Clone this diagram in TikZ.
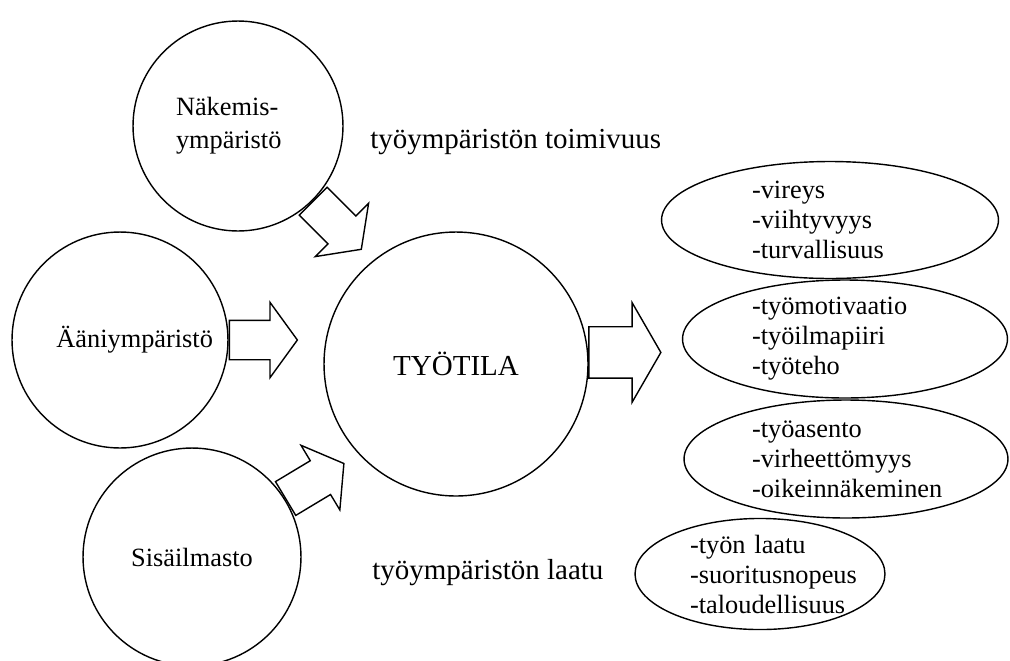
\documentclass[tikz,border=0pt]{standalone}
\usepackage{fontspec}
\setmainfont{Liberation Serif}
\usetikzlibrary{shapes.geometric,shapes.arrows}
\hyphenpenalty=10000
\exhyphenpenalty=10000
\tikzset{
	ympyra/.style={draw, circle, line width=.8pt, inner sep=0pt, font=\fontsize{15}{18.8}\selectfont},
	soikio/.style={draw, ellipse, line width=.8pt, inner sep=0pt, align=left, font=\fontsize{15}{17.07}\selectfont},
	nuoli/.style={draw, single arrow, line width=.8pt, inner xsep=0pt, inner ysep=.38cm, minimum height=1.36cm, minimum width=1.48cm, single arrow head extend=.36cm, single arrow tip angle=108, anchor=tail},
	otsikko/.style={inner sep=0pt, font=\fontsize{16.5}{19}\selectfont}
}
\begin{document}
\begin{tikzpicture}[x=.02cm, y=-.02cm]
				\useasboundingbox (0,0) rectangle (1010,660);
				\node[ympyra, minimum size=4.2cm, text width=2.48cm, align=left] (nako) at (238,126) {Näkemis-\\ympäristö};
				\node[ympyra, minimum size=4.32cm, text width=3.72cm, align=right] (aani) at (120,340) {Ääniympäristö};
				\node[ympyra, minimum size=4.36cm] (sisa) at (192,557) {Sisäilmasto};
				\node[ympyra, otsikko, minimum size=5.28cm] (tyotila) at (456,364) {TYÖTILA};
				\node[nuoli, rotate=-45] (nakonuoli) at (nako.-45) {};
				\node[nuoli] (aaninuoli) at (aani.east) {};
				\node[nuoli, rotate=31] (sisanuoli) at (sisa.32) {};
				\node[nuoli, inner ysep=.5cm, minimum height=1.44cm, minimum width=1.96cm, single arrow head extend=.48cm, single arrow tip angle=120] (ulosnuoli) at (tyotila.5) {};
				\node[otsikko, anchor=west] (toimivuus) at (370,142) {työympäristön toimivuus};
				\node[otsikko, anchor=west] (laatu) at (372,573) {työympäristön laatu};
				\node[soikio, minimum width=6.74cm, minimum height=2.34cm, text width=3.12cm] (vireys) at (830,220) {-vireys\\-viihtyvyys\\-turvallisuus};
				\node[soikio, minimum width=6.5cm, minimum height=2.36cm, text width=3.72cm] (motivaatio) at (845,339) {-työmotivaatio\\-työilmapiiri\\-työteho};
				\node[soikio, minimum width=6.48cm, minimum height=2.36cm, text width=3.76cm] (asento) at (846,459) {-työasento\\-virheettömyys\\-oikeinnäkeminen};
				\node[soikio, minimum width=5cm, minimum height=2.16cm, text width=2.8cm] (laatulista) at (760,574) {-työn laatu\\-suoritusnopeus\\-taloudellisuus};
			\end{tikzpicture}
\end{document}
